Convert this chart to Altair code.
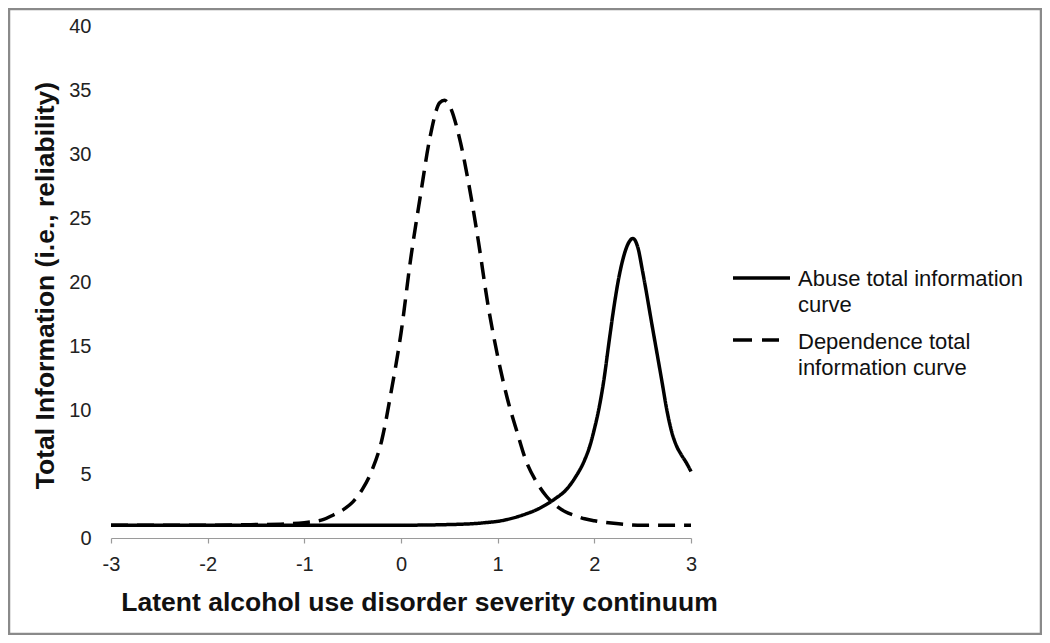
import altair as alt
import pandas as pd

FONT = "Liberation Sans, Arial, Helvetica, sans-serif"

# Abuse total information curve (solid)
abuse_x = [-3.0, -2.5, -2.0, -1.5, -1.0, -0.5, 0.0, 0.5, 0.8, 0.9, 1.0, 1.1, 1.2, 1.3, 1.4, 1.5,
           1.6, 1.7, 1.8, 1.9, 1.95, 2.0, 2.05, 2.1, 2.15, 2.2, 2.25, 2.3, 2.35, 2.4, 2.45, 2.5,
           2.6, 2.7, 2.75, 2.8, 2.85, 2.9, 2.95, 3.0]
abuse_y = [1.0, 1.0, 1.0, 1.0, 1.0, 1.0, 1.0, 1.05, 1.15, 1.22, 1.3, 1.45, 1.65, 1.9, 2.2, 2.6,
           3.1, 3.7, 4.7, 6.1, 7.1, 8.5, 10.2, 12.4, 15.2, 17.9, 20.2, 21.9, 23.0, 23.4, 22.7, 20.8,
           16.5, 12.2, 10.0, 8.3, 7.2, 6.5, 5.9, 5.2]

# Dependence total information curve (dashed)
dep_x = [-3.0, -2.5, -2.0, -1.5, -1.2, -1.0, -0.8, -0.7, -0.6, -0.5, -0.4, -0.3, -0.2, -0.1, 0.0,
         0.1, 0.2, 0.3, 0.4, 0.45, 0.5, 0.6, 0.7, 0.8, 0.9, 1.0, 1.1, 1.2, 1.3, 1.4, 1.5, 1.6,
         1.7, 1.8, 1.9, 2.0, 2.2, 2.5, 2.9, 3.0]
dep_y = [1.0, 1.0, 1.0, 1.05, 1.1, 1.2, 1.45, 1.8, 2.2, 2.8, 3.8, 5.3, 7.6, 11.5, 16.0,
         21.8, 26.7, 31.3, 34.0, 34.2, 33.8, 31.4, 27.7, 23.2, 18.2, 14.2, 10.9, 8.3, 5.9, 4.4, 3.3, 2.55,
         2.05, 1.75, 1.5, 1.35, 1.15, 1.0, 1.0, 1.0]

series_names = ["Abuse total information curve", "Dependence total information curve"]
legend_texts = ["Abuse total information\ncurve", "Dependence total\ninformation curve"]
x_ticks = [-3, -2, -1, 0, 1, 2, 3]
y_ticks = [0, 5, 10, 15, 20, 25, 30, 35, 40]

df = pd.concat([
    pd.DataFrame({"x": abuse_x, "y": abuse_y, "series": series_names[0]}),
    pd.DataFrame({"x": dep_x, "y": dep_y, "series": series_names[1]}),
])

W, H = 580, 512

lines = alt.Chart(df).mark_line(
    color="black", strokeWidth=3.5, interpolate="monotone", strokeCap="butt"
).encode(
    x=alt.X("x:Q", scale=alt.Scale(domain=[-3, 3], nice=False),
            axis=alt.Axis(values=x_ticks, title="Latent alcohol use disorder severity continuum",
                          grid=False, domainColor="#9a9a9a", domainWidth=1.2,
                          tickColor="#9a9a9a", tickSize=5, tickWidth=1.2,
                          labelFont=FONT, labelFontSize=20, labelColor="#222222",
                          labelPadding=11, labelFlush=False,
                          labelExpr="datum.value + ''",
                          titleFont=FONT, titleFontSize=26.5, titleFontWeight="bold",
                          titleColor="#111111", titleX=308, titleY=72,
                          titleBaseline="alphabetic", titleAnchor="start", titleAlign="center")),
    y=alt.Y("y:Q", scale=alt.Scale(domain=[0, 40], nice=False),
            axis=alt.Axis(values=y_ticks, title="Total Information (i.e., reliability)",
                          grid=False, domain=False, ticks=False, tickSize=0,
                          labelFont=FONT, labelFontSize=20, labelColor="#222222",
                          labelPadding=20,
                          titleFont=FONT, titleFontSize=26.5, titleFontWeight="bold",
                          titleColor="#111111", titleX=-66, titleY=259,
                          titleAngle=-90, titleBaseline="middle", titleAlign="center")),
    strokeDash=alt.StrokeDash("series:N",
                              scale=alt.Scale(domain=series_names, range=[[1, 0], [17, 9]]),
                              legend=None),
    detail="series:N",
)

LFS = 22

leg_abuse_line = alt.Chart(pd.DataFrame({"k": [0]})).mark_rule(
    color="black", strokeWidth=3.5, strokeCap="butt"
).encode(x=alt.value(622), x2=alt.value(679), y=alt.value(252))

leg_dep_line = alt.Chart(pd.DataFrame({"k": [0]})).mark_rule(
    color="black", strokeWidth=3.5, strokeDash=[19, 10], strokeCap="butt"
).encode(x=alt.value(622), x2=alt.value(668), y=alt.value(314))

leg_abuse_text = alt.Chart(pd.DataFrame({"t": [legend_texts[0]]})).mark_text(
    align="left", baseline="alphabetic", font=FONT, fontSize=LFS, lineBreak="\n",
    lineHeight=26, color="#111111"
).encode(x=alt.value(687), y=alt.value(260), text="t:N")

leg_dep_text = alt.Chart(pd.DataFrame({"t": [legend_texts[1]]})).mark_text(
    align="left", baseline="alphabetic", font=FONT, fontSize=LFS, lineBreak="\n",
    lineHeight=26, color="#111111"
).encode(x=alt.value(687), y=alt.value(323), text="t:N")

frame = alt.Chart(pd.DataFrame({"k": [0]})).mark_rect(
    fill=None, stroke="#8a8a8a", strokeWidth=2.5
).encode(x=alt.value(-102), x2=alt.value(930), y=alt.value(-17), y2=alt.value(608))

chart = alt.layer(
    frame, lines, leg_abuse_line, leg_dep_line, leg_abuse_text, leg_dep_text
).properties(
    width=W, height=H,
    padding={"left": 103, "top": 18, "right": 351, "bottom": 97},
    autosize=alt.AutoSizeParams(type="none"),
    background="white",
).configure_view(strokeWidth=0)

chart.save("out.html", embed_options={"renderer": "svg", "actions": False})
